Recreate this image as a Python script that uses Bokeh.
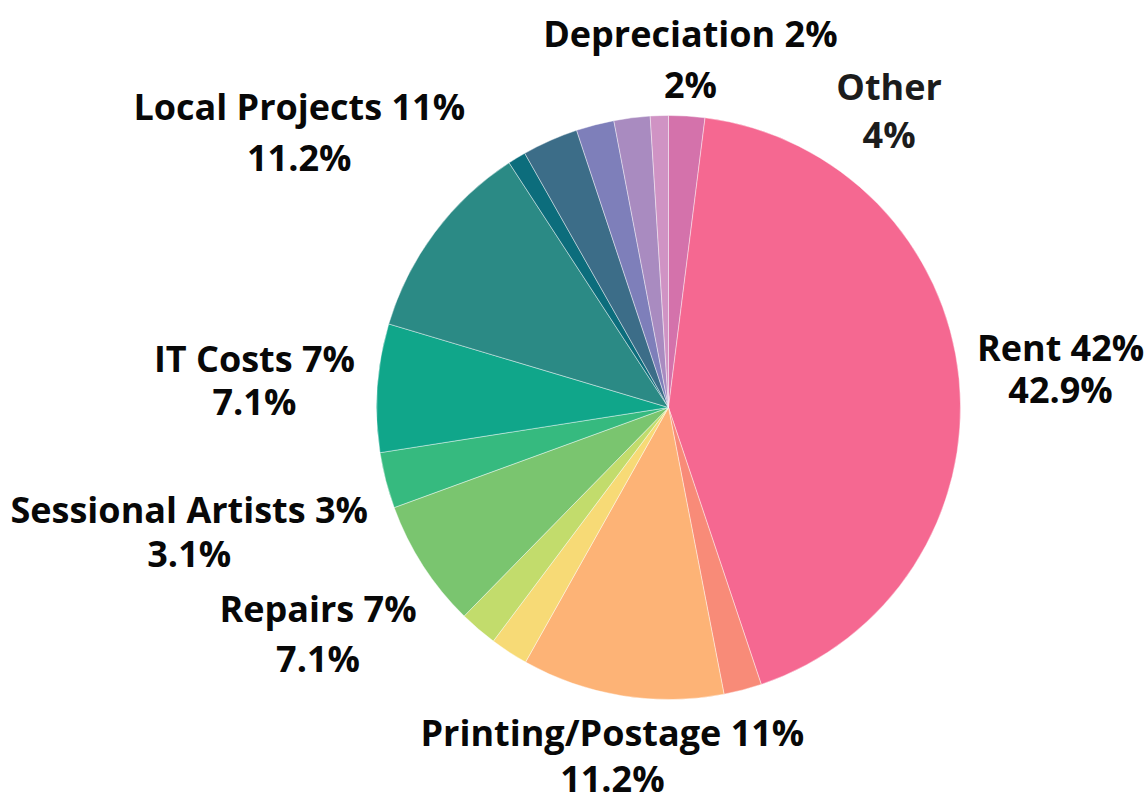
import numpy as np
from bokeh.plotting import figure
from bokeh.models import ColumnDataSource, Range1d
from bokeh.core.properties import value
from bokeh.embed import file_html
from bokeh.resources import INLINE

# ---- data (clockwise from 12 o'clock) ----
categories = ["Depreciation", "Rent", "Unlabelled A", "Printing/Postage", "Unlabelled B",
              "Unlabelled C", "Repairs", "Sessional Artists", "IT Costs", "Local Projects",
              "Unlabelled D", "Unlabelled E", "Unlabelled F", "Unlabelled G", "Other"]
shares = [2.0, 42.9, 2.1, 11.2, 2.1, 2.1, 7.1, 3.1, 7.1, 11.2, 1.0, 3.1, 2.1, 2.0, 1.0]
colors = ["#d472ab", "#f56891", "#f88b78", "#fdb376", "#f7da76", "#c2dc6c", "#7ac56f",
          "#36ba7f", "#10a68a", "#2b8a85", "#0c6d7c", "#3c6d88", "#7e7fba", "#a98bc0", "#d093c4"]
label_name = ["Depreciation 2%", "Rent 42%", "", "Printing/Postage 11%", "", "",
              "Repairs 7%", "Sessional Artists 3%", "IT Costs 7%", "Local Projects 11%",
              "", "", "", "", "Other"]
label_value = ["2%", "42.9%", "", "11.2%", "", "", "7.1%", "3.1%", "7.1%", "11.2%",
               "", "", "", "", "4%"]

# ---- layout (pixels) ----
W, H = 1147, 804
R_PX = 292.0
CX, CY = 668.0, 407.0
# per-label: (angle override in degrees clockwise from top or None, distance px, line gap px)
label_layout = {
    0: (None, 349, 51),
    1: (None, 394, 42),
    3: (None, 352, 46),
    6: (None, 417, 50),
    7: (None, 495, 44),
    8: (None, 415, 43),
    9: (None, 461, 51),
    14: (36.6, 370, 48),
}

vals = np.array(shares, dtype=float)
frac = vals / vals.sum()
cum_end = np.cumsum(frac)
cum_start = cum_end - frac
start_angle = np.pi / 2 - 2 * np.pi * cum_start
end_angle = np.pi / 2 - 2 * np.pi * cum_end

src = ColumnDataSource(dict(cat=categories, start=start_angle, end=end_angle, color=colors))

p = figure(width=W, height=H, output_backend="svg", toolbar_location=None,
           x_axis_location=None, y_axis_location=None, min_border=0,
           x_range=Range1d(-CX / R_PX, (W - CX) / R_PX),
           y_range=Range1d(-(H - CY) / R_PX, CY / R_PX))
p.grid.visible = False
p.outline_line_color = None
p.background_fill_color = "white"
p.border_fill_color = "white"

p.wedge(x=0, y=0, radius=1, start_angle="start", end_angle="end", direction="clock",
        fill_color="color", line_color="white", line_width=0.6, line_alpha=0.7, source=src)

lx, ly, lt, lc = [], [], [], []
for i, (ang, dist, gap) in label_layout.items():
    theta = np.deg2rad(ang) if ang is not None else 2 * np.pi * (cum_start[i] + frac[i] / 2)
    cx = dist * np.sin(theta) / R_PX
    cy = dist * np.cos(theta) / R_PX
    g = gap / 2 / R_PX
    col = "#1c1c1c" if i == 14 else "#080808"
    lx += [cx, cx]
    ly += [cy + g, cy - g]
    lt += [label_name[i], label_value[i]]
    lc += [col, col]

lsrc = ColumnDataSource(dict(x=lx, y=ly, text=lt, color=lc))
p.text(x="x", y="y", text="text", source=lsrc, text_align="center", text_baseline="middle",
       text_font=value("Open Sans"), text_font_style="bold", text_font_size="36px",
       text_color="color")

open("out.html", "w").write(file_html(p, INLINE))
